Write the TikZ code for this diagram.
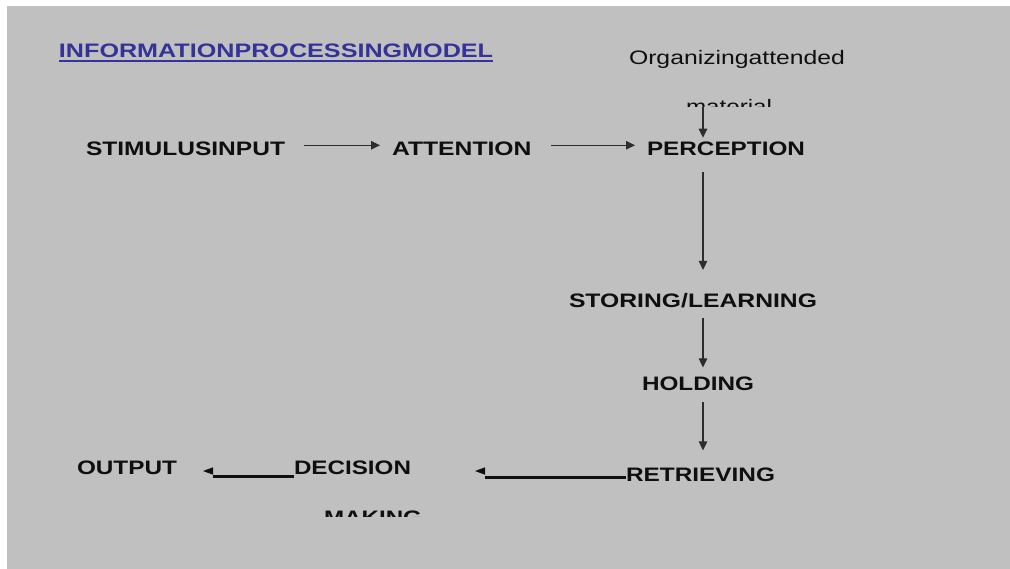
\documentclass[tikz,border=0pt]{standalone}
\usepackage{fontspec}
\setmainfont{Liberation Sans}
\usetikzlibrary{arrows.meta}
\definecolor{bg}{RGB}{192,192,192}
\definecolor{ttl}{RGB}{51,51,153}
\definecolor{ln}{RGB}{45,45,45}
\definecolor{ink}{RGB}{15,15,15}
\newcommand{\fitw}[2]{\resizebox{#1pt}{\height}{#2}}
\begin{document}
\begin{tikzpicture}[x=1pt,y=-1pt,
  lbl/.style={inner sep=0pt,outer sep=0pt,anchor=base west,text=ink,font=\bfseries\fontsize{19.5}{23}\selectfont},
  plain/.style={inner sep=0pt,outer sep=0pt,anchor=base west,text=ink,font=\fontsize{19.5}{23}\selectfont},
  arr/.style={draw=ln,line width=1.2pt,-{Triangle[length=9pt,width=8.5pt]}},
  heavy/.style={draw=ink,line width=2.5pt},
  headfill/.style={fill=ink}]
\useasboundingbox (0,0) rectangle (1010,569);
\fill[white] (0,0) rectangle (1010,569);
\fill[bg] (7,6) rectangle (1010,569);

% title
\node[lbl,text=ttl] (title) at (59,57.3) {\fitw{434}{INFORMATIONPROCESSINGMODEL}};
\draw[ttl,line width=1.5pt] ([yshift=-3.7pt]title.base west) -- ([yshift=-3.7pt]title.base east);

% top note
\node[plain] (org) at (629,65) {\fitw{216}{Organizingattended}};
\begin{scope}
  \clip (600,85) rectangle (820,107);
  \node[plain] (mat) at (686,114) {\fitw{86}{material}};
\end{scope}

% main row
\node[lbl] (stim) at (86,156) {\fitw{199}{STIMULUSINPUT}};
\node[lbl] (att) at (392,156) {\fitw{139.5}{ATTENTION}};
\node[lbl] (perc) at (647,156) {\fitw{158}{PERCEPTION}};
\node[lbl] (stor) at (569,308) {\fitw{248}{STORING/LEARNING}};
\node[lbl] (hold) at (642,391) {\fitw{112}{HOLDING}};
\node[lbl] (ret) at (626,482) {\fitw{149}{RETRIEVING}};
\node[lbl] (dec) at (294,475) {\fitw{117}{DECISION}};
\node[lbl] (out) at (77,475) {\fitw{100}{OUTPUT}};
\begin{scope}
  \clip (300,495) rectangle (450,516);
  \node[lbl] (mak) at (324,524) {\fitw{98}{MAKING}};
\end{scope}

\coordinate (vx) at (703,0);

% connectors
\draw[arr] ([xshift=19pt,yshift=4pt]stim.east) -- ([xshift=-12pt,yshift=4pt]att.west);
\draw[arr] ([xshift=19.5pt,yshift=4pt]att.east) -- ([xshift=-12pt,yshift=4pt]perc.west);
\draw[arr] ([yshift=7pt]mat.base -| vx) -- ([yshift=4.7pt]perc.north -| vx);
\draw[arr] ([yshift=-16pt]perc.south -| vx) -- ([yshift=24pt]stor.north -| vx);
\draw[arr] ([yshift=-10pt]stor.south -| vx) -- ([yshift=10pt]hold.north -| vx);
\draw[arr] ([yshift=-11pt]hold.south -| vx) -- ([yshift=18pt]ret.north -| vx);

% bottom connectors (line lower than head, as in the original)
\draw[heavy] ([yshift=4.3pt]ret.base west) -- ++(-141,0);
\fill[headfill] (485,467.3) -- (475,471) -- (485,474.7) -- cycle;
\draw[heavy] ([yshift=-1.7pt]dec.base west) -- ++(-81,0);
\fill[headfill] (213,467.3) -- (203,471) -- (213,474.7) -- cycle;
\end{tikzpicture}
\end{document}
